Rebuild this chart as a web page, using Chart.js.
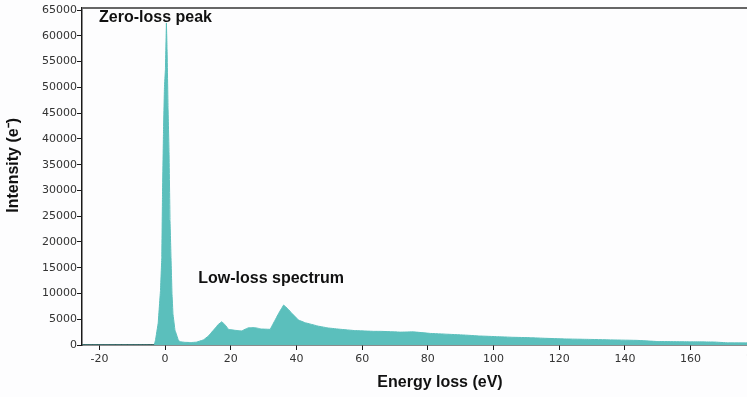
<!DOCTYPE html>
<html>
<head>
<meta charset="utf-8">
<script src="https://cdn.jsdelivr.net/npm/chart.js@4.4.0/dist/chart.umd.min.js"></script>
<style>
  html, body { margin: 0; padding: 0; background: #fdfdfe; overflow: hidden; }
  #wrap { width: 800px; height: 397px; }
</style>
</head>
<body>
<div id="wrap"><canvas id="spectrum" width="800" height="397"></canvas></div>
<script>
// energy loss (eV) and counts
const energy = [-25.3, -5, -3.3, -2.9, -2.1, -1.4, -1.0, -0.8, -0.5, -0.2, 0.1, 0.4, 0.6, 0.9, 1.2, 1.5, 1.8, 2.1, 2.4, 3.0, 4.0, 4.5,
  6, 8, 9.5, 10.5, 11.7, 13.2, 15.2, 16.2, 17.3, 18.3, 19.3, 21.3, 23.3, 25.4, 27.4, 29.4, 32,
  33.5, 34.8, 36.1, 37.4, 38.6, 40.6, 42.6, 46.7, 49.7, 53.4, 57.7, 63.5, 65.7, 71.7, 75.7, 80.7,
  85.7, 90.7, 95.7, 101.1, 105.7, 111.3, 115.7, 121.4, 129.7, 136.7, 143.7, 149.7, 159.7, 167.2, 171.3, 177.7, 192.7];
const intensity = [0, 0, 0, 1000, 4250, 10600, 17000, 28700, 41000, 50000, 53500, 62500, 57500, 46000, 37500, 24200, 17000, 10000, 6000, 2900, 1000, 640,
  520, 480, 550, 750, 1000, 1750, 3230, 4000, 4520, 3880, 3040, 2850, 2730, 3360, 3360, 3100, 3040,
  4850, 6400, 7760, 7000, 6150, 4850, 4330, 3650, 3300, 3050, 2800, 2650, 2650, 2500, 2550, 2250,
  2100, 1950, 1750, 1620, 1500, 1420, 1300, 1180, 1080, 980, 900, 680, 620, 580, 420, 400, 380];

const xTicks = [-20, 0, 20, 40, 60, 80, 100, 120, 140, 160, 180];
const yTicks = [0, 5000, 10000, 15000, 20000, 25000, 30000, 35000, 40000, 45000, 50000, 55000, 60000, 65000];

const noteText = ['Zero-loss peak', 'Low-loss spectrum'];
const noteX = [-20.1, 10.1];
const noteY = [63450, 12800];

const teal = '#5bbfbc';
const ink = '#1a1a1a';

const points = [];
for (let i = 0; i < energy.length; i++) {
  points.push({ x: energy[i], y: intensity[i] });
}

const notesPlugin = {
  id: 'notes',
  afterDatasetsDraw(chart) {
    const ctx = chart.ctx;
    const area = chart.chartArea;
    const x = chart.scales.x;
    const y = chart.scales.y;
    ctx.save();
    // top frame line
    ctx.strokeStyle = '#666';
    ctx.lineWidth = 2;
    ctx.beginPath();
    ctx.moveTo(area.left, area.top);
    ctx.lineTo(area.right, area.top);
    ctx.stroke();

    ctx.fillStyle = '#111';
    ctx.font = 'bold 16px "Liberation Sans", Arial, sans-serif';
    ctx.textAlign = 'left';
    ctx.textBaseline = 'middle';
    for (let i = 0; i < noteText.length; i++) {
      ctx.fillText(noteText[i], x.getPixelForValue(noteX[i]), y.getPixelForValue(noteY[i]));
    }
    ctx.restore();
  }
};

new Chart(document.getElementById('spectrum'), {
  type: 'line',
  data: {
    datasets: [{
      data: points,
      fill: 'origin',
      backgroundColor: teal,
      borderColor: teal,
      borderWidth: 1,
      pointRadius: 0,
      tension: 0.0001 // keeps Chart.js off its pixel-column fast path
    }]
  },
  options: {
    responsive: false,
    animation: false,
    layout: { padding: { top: 8, right: 2, bottom: 0, left: 0 } },
    plugins: {
      legend: { display: false },
      tooltip: { enabled: false }
    },
    scales: {
      x: {
        type: 'linear',
        min: -25.3,
        max: 192.7,
        afterFit: function (scale) { scale.height = 52; },
        afterBuildTicks: function (scale) { scale.ticks = xTicks.map(v => ({ value: v })); },
        grid: { display: true, drawOnChartArea: false, tickLength: 5, color: ink },
        border: { display: true, color: ink, width: 1.5 },
        ticks: {
          color: '#333',
          padding: 3,
          maxRotation: 0,
          autoSkip: false,
          font: { family: '"DejaVu Sans"', size: 11 },
          callback: v => String(v)
        },
        title: {
          display: true,
          text: 'Energy loss (eV)',
          color: '#111',
          padding: { top: 0, bottom: 5 },
          font: { family: '"Liberation Sans", Arial', size: 16, weight: 'bold' }
        }
      },
      y: {
        min: 0,
        max: 65400,
        afterFit: function (scale) { scale.width = 82; },
        afterBuildTicks: function (scale) { scale.ticks = yTicks.map(v => ({ value: v })); },
        grid: { display: true, drawOnChartArea: false, tickLength: 5, color: ink },
        border: { display: true, color: ink, width: 1.5 },
        ticks: {
          color: '#333',
          padding: 0,
          autoSkip: false,
          font: { family: '"DejaVu Sans"', size: 11 },
          callback: v => String(v)
        },
        title: {
          display: true,
          text: '     Intensity (e\u207B)',
          color: '#111',
          padding: { top: 4, bottom: 0 },
          font: { family: '"Liberation Sans", Arial', size: 16, weight: 'bold' }
        }
      }
    }
  },
  plugins: [notesPlugin]
});
</script>
</body>
</html>
